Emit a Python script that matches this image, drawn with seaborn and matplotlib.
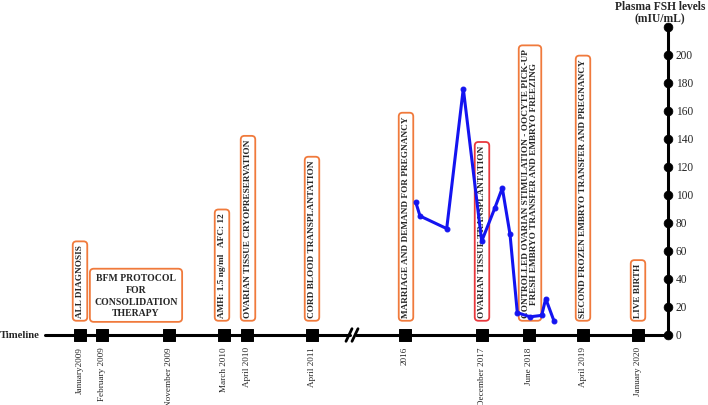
import pandas as pd
import seaborn as sns
import matplotlib.pyplot as plt

# Timeline events (position on the schematic axis, label)
event_labels = ["January2009", "February 2009", "November 2009", "March 2010", "April 2010",
                "April 2011", "2016", "December 2017", "June 2018", "April 2019", "January 2020"]
event_pos = [80, 102, 169, 224, 247, 312, 405, 482, 529, 583, 638]

# Boxes above the timeline
box_texts = ["ALL DIAGNOSIS",
             "AMH: 1.5 ng/ml   AFC: 12",
             "OVARIAN TISSUE CRYOPRESERVATION",
             "CORD BLOOD TRANSPLANTATION",
             "MARRIAGE AND DEMAND FOR PREGNANCY",
             "OVARIAN TISSUE TRANSPLANTATION",
             "CONTROLLED OVARIAN STIMULATION - OOCYTE PICK-UP\nFRESH EMBRYO TRANSFER AND EMBRYO FREEZING",
             "SECOND FROZEN EMBRYO TRANSFER AND PREGNANCY",
             "LIVE BIRTH"]
box_pos = [80, 222, 248, 312, 406, 482, 530, 583, 638]
box_edge = ["#F07A3C", "#F07A3C", "#F07A3C", "#F07A3C", "#F07A3C", "#E8383D", "#F07A3C", "#F07A3C", "#F07A3C"]
bfm_text = "BFM PROTOCOL\nFOR\nCONSOLIDATION\nTHERAPY"

# Plasma FSH levels (mIU/mL)
fsh_pos = [415.7, 420, 446.7, 463.3, 481.7, 495, 502.3, 510, 517.3, 530, 541.7, 545.7, 554]
fsh_val = [95, 85, 76, 176, 67, 91, 105, 72, 16, 13, 14, 26, 10]
fsh_ticks = [0, 20, 40, 60, 80, 100, 120, 140, 160, 180, 200, 220]

sns.set_style("white")
plt.rcParams['font.family'] = ['Liberation Serif', 'DejaVu Serif']

fig = plt.figure(figsize=(7.08, 4.06), dpi=100)
ax = fig.add_axes([0, 0, 1, 1])

axis_x = 668

# timeline line with break
ax.plot([45, 350], [0, 0], color="black", lw=2.2, zorder=1)
ax.plot([356, axis_x], [0, 0], color="black", lw=2.2, zorder=1)
for bx in [349, 355]:
    ax.plot([bx - 3, bx + 3], [-4.5, 4.5], color="black", lw=2, zorder=2)
ax.text(40, 0, "Timeline", ha="right", va="center", fontsize=7.7, fontweight="bold")

ev = pd.DataFrame({"pos": event_pos, "y": [0] * len(event_pos)})
sns.scatterplot(data=ev, x="pos", y="y", marker="s", s=75, color="black",
                edgecolor="black", ax=ax, zorder=3, legend=False)
for p, lab in zip(event_pos, event_labels):
    ax.text(p, -8, lab, rotation=90, ha="center", va="top", fontsize=6.6)

# FSH vertical axis
ax.plot([axis_x, axis_x], [0, 220], color="black", lw=2.2, zorder=1)
tk = pd.DataFrame({"x": [axis_x] * len(fsh_ticks), "v": fsh_ticks})
sns.scatterplot(data=tk, x="x", y="v", marker="o", s=40, color="black",
                edgecolor="black", ax=ax, zorder=3, legend=False)
for v in fsh_ticks[:-1]:
    ax.text(axis_x + 8, v, str(v), ha="left", va="center", fontsize=8.3)
ax.text(660, 239, "Plasma FSH levels\n(mIU/mL)", ha="center", va="top",
        fontsize=8.3, fontweight="bold", linespacing=0.95)

# event boxes
for t, p, ec in zip(box_texts, box_pos, box_edge):
    ax.text(p, 12.5, t, rotation=90, ha="center", va="bottom", fontsize=6.7,
            fontweight="bold", multialignment="center", linespacing=1.0,
            bbox=dict(boxstyle="round,pad=0.35,rounding_size=0.4", fc="white", ec=ec, lw=1.3),
            zorder=2)
ax.text(136, 12.5, bfm_text, ha="center", va="bottom", fontsize=7, fontweight="bold",
        multialignment="center", linespacing=1.4,
        bbox=dict(boxstyle="round,pad=0.45,rounding_size=0.4", fc="white", ec="#F07A3C", lw=1.3),
        zorder=2)

# FSH curve
fsh = pd.DataFrame({"pos": fsh_pos, "fsh": fsh_val})
sns.lineplot(data=fsh, x="pos", y="fsh", sort=False, color="#1414F0", lw=2.2,
             marker="o", markersize=3.5, markeredgecolor="#1414F0", ax=ax, zorder=4)
ax.set_xlim(0, 708)
ax.set_ylim(-50, 240)
ax.axis('off')

plt.savefig("out.png", dpi=100)
